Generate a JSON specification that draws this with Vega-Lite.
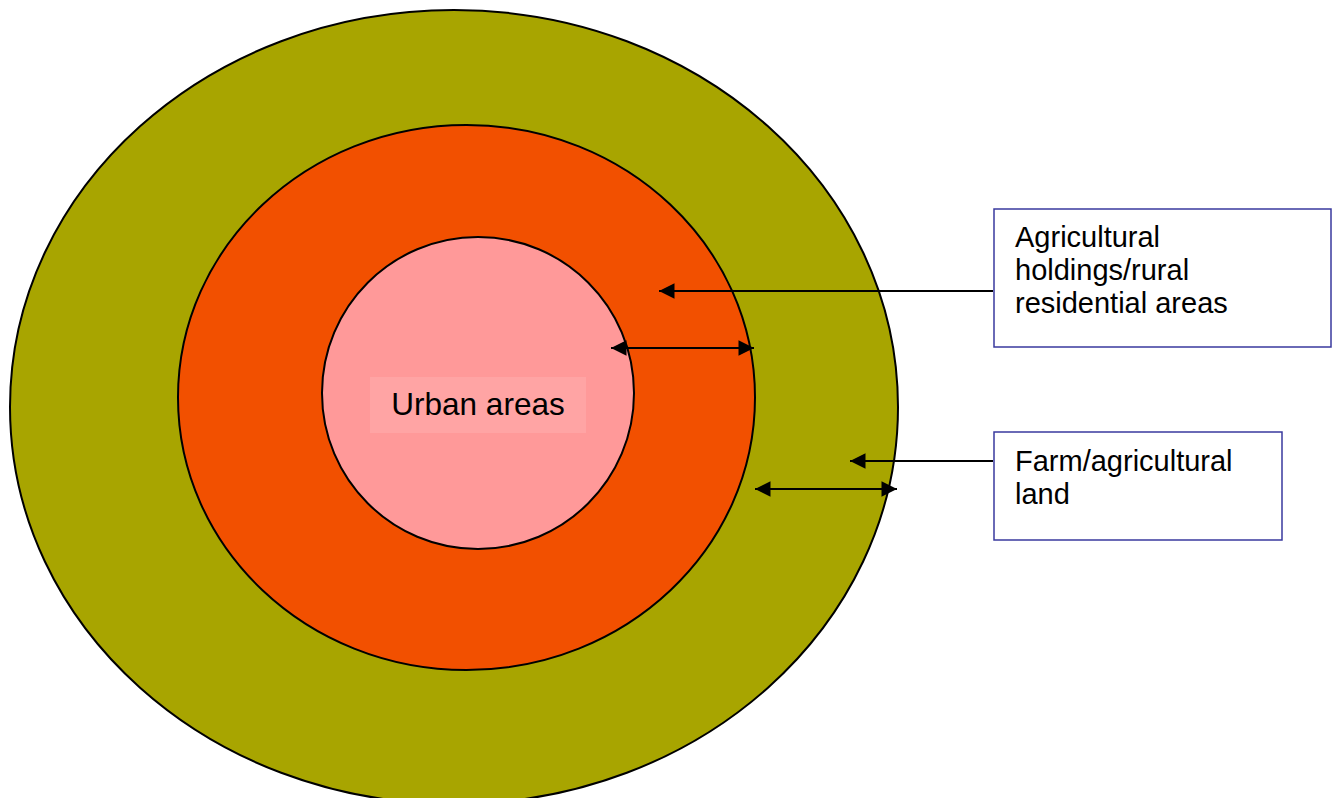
{
  "$schema": "https://vega.github.io/schema/vega-lite/v6.json",
  "autosize": {"type": "none"},
  "padding": 0,
  "width": 1338,
  "height": 798,
  "background": "white",
  "config": {"view": {"stroke": null}},
  "datasets": {
    "zones": [
      {"zone": "Farm/agricultural land", "x": 454, "y": 407},
      {"zone": "Agricultural holdings/rural residential areas", "x": 466.5, "y": 397.5},
      {"zone": "Urban areas", "x": 478, "y": 393}
    ],
    "labelBox": [{"x": 370, "x2": 586, "y": 377, "y2": 433}],
    "boxes": [
      {"box": "Agricultural holdings/rural residential areas", "x": 994, "x2": 1331, "y": 209, "y2": 347},
      {"box": "Farm/agricultural land", "x": 994, "x2": 1282, "y": 432, "y2": 540}
    ],
    "centerText": [{"text": "Urban areas", "x": 478, "y": 415}],
    "boxText": [
      {"text": "Agricultural", "x": 1015, "y": 247},
      {"text": "holdings/rural", "x": 1015, "y": 280},
      {"text": "residential areas", "x": 1015, "y": 313},
      {"text": "Farm/agricultural", "x": 1015, "y": 471},
      {"text": "land", "x": 1015, "y": 504}
    ],
    "arrows": [
      {"x": 993, "x2": 659, "y": 291},
      {"x": 611, "x2": 754, "y": 348},
      {"x": 993, "x2": 850, "y": 461},
      {"x": 755, "x2": 897, "y": 489}
    ],
    "heads": [
      {"x": 659, "y": 291, "dir": "left"},
      {"x": 611, "y": 348, "dir": "left"},
      {"x": 754, "y": 348, "dir": "right"},
      {"x": 850, "y": 461, "dir": "left"},
      {"x": 755, "y": 489, "dir": "left"},
      {"x": 897, "y": 489, "dir": "right"}
    ]
  },
  "layer": [
    {
      "data": {"name": "zones"},
      "transform": [{"filter": "datum.zone === 'Farm/agricultural land'"}],
      "mark": {"type": "point", "filled": true, "opacity": 1, "fill": "#A8A500", "stroke": "black", "strokeWidth": 2,
        "size": 788544,
        "shape": "M1,0 C1,0.4938 0.5523,0.8941 0,0.8941 C-0.5523,0.8941 -1,0.4938 -1,0 C-1,-0.4938 -0.5523,-0.8941 0,-0.8941 C0.5523,-0.8941 1,-0.4938 1,0 Z"},
      "encoding": {
        "x": {"field": "x", "type": "quantitative", "scale": {"domain": [0, 1338], "nice": false, "zero": false}, "axis": null},
        "y": {"field": "y", "type": "quantitative", "scale": {"domain": [0, 798], "nice": false, "zero": false, "reverse": true}, "axis": null}
      }
    },
    {
      "data": {"name": "zones"},
      "transform": [{"filter": "datum.zone === 'Agricultural holdings/rural residential areas'"}],
      "mark": {"type": "point", "filled": true, "opacity": 1, "fill": "#F25000", "stroke": "black", "strokeWidth": 2,
        "size": 332929,
        "shape": "M1,0 C1,0.5217 0.5523,0.9445 0,0.9445 C-0.5523,0.9445 -1,0.5217 -1,0 C-1,-0.5217 -0.5523,-0.9445 0,-0.9445 C0.5523,-0.9445 1,-0.5217 1,0 Z"},
      "encoding": {
        "x": {"field": "x", "type": "quantitative", "axis": null},
        "y": {"field": "y", "type": "quantitative", "axis": null}
      }
    },
    {
      "data": {"name": "zones"},
      "transform": [{"filter": "datum.zone === 'Urban areas'"}],
      "mark": {"type": "point", "filled": true, "opacity": 1, "fill": "#FF9999", "stroke": "black", "strokeWidth": 2,
        "size": 97344,
        "shape": "M1,0 C1,0.5523 0.5523,1 0,1 C-0.5523,1 -1,0.5523 -1,0 C-1,-0.5523 -0.5523,-1 0,-1 C0.5523,-1 1,-0.5523 1,0 Z"},
      "encoding": {
        "x": {"field": "x", "type": "quantitative", "axis": null},
        "y": {"field": "y", "type": "quantitative", "axis": null}
      }
    },
    {
      "data": {"name": "labelBox"},
      "mark": {"type": "rect", "fill": "#FFA4A4"},
      "encoding": {
        "x": {"field": "x", "type": "quantitative", "axis": null},
        "x2": {"field": "x2"},
        "y": {"field": "y", "type": "quantitative", "axis": null},
        "y2": {"field": "y2"}
      }
    },
    {
      "data": {"name": "centerText"},
      "mark": {"type": "text", "font": "Liberation Sans", "fontSize": 31.5, "align": "center", "baseline": "alphabetic", "color": "black"},
      "encoding": {
        "x": {"field": "x", "type": "quantitative", "axis": null},
        "y": {"field": "y", "type": "quantitative", "axis": null},
        "text": {"field": "text"}
      }
    },
    {
      "data": {"name": "arrows"},
      "mark": {"type": "rule", "color": "black", "strokeWidth": 2},
      "encoding": {
        "x": {"field": "x", "type": "quantitative", "axis": null},
        "x2": {"field": "x2"},
        "y": {"field": "y", "type": "quantitative", "axis": null}
      }
    },
    {
      "data": {"name": "heads"},
      "mark": {"type": "point", "filled": true, "opacity": 1, "color": "black", "size": 240, "strokeWidth": 0},
      "encoding": {
        "x": {"field": "x", "type": "quantitative", "axis": null},
        "y": {"field": "y", "type": "quantitative", "axis": null},
        "shape": {"field": "dir", "type": "nominal", "legend": null,
          "scale": {"domain": ["left", "right"], "range": ["M0,0 L2,-1 L2,1 Z", "M0,0 L-2,-1 L-2,1 Z"]}}
      }
    },
    {
      "data": {"name": "boxes"},
      "mark": {"type": "rect", "fill": "white", "stroke": "#3A3A9E", "strokeWidth": 1.5},
      "encoding": {
        "x": {"field": "x", "type": "quantitative", "axis": null},
        "x2": {"field": "x2"},
        "y": {"field": "y", "type": "quantitative", "axis": null},
        "y2": {"field": "y2"}
      }
    },
    {
      "data": {"name": "boxText"},
      "mark": {"type": "text", "font": "Liberation Sans", "fontSize": 29, "align": "left", "baseline": "alphabetic", "color": "black"},
      "encoding": {
        "x": {"field": "x", "type": "quantitative", "axis": null},
        "y": {"field": "y", "type": "quantitative", "axis": null},
        "text": {"field": "text"}
      }
    }
  ]
}
